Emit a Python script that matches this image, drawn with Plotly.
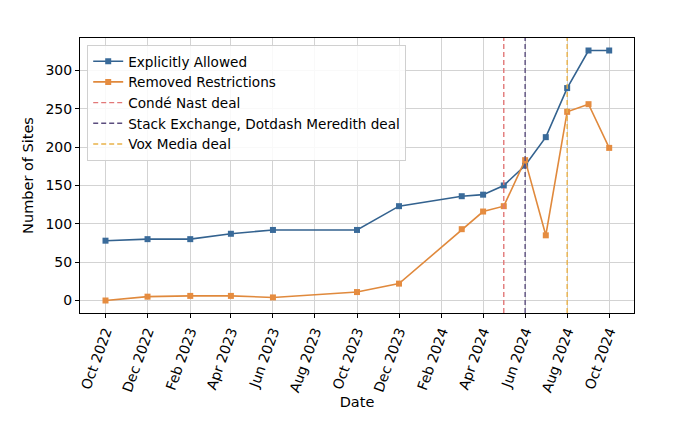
import plotly.graph_objects as go

dates = ["2022-10-01", "2022-12-01", "2023-02-01", "2023-04-01", "2023-06-01",
         "2023-10-01", "2023-12-01", "2024-03-01", "2024-04-01", "2024-05-01",
         "2024-06-01", "2024-07-01", "2024-08-01", "2024-09-01", "2024-10-01"]
explicitly_allowed = [78, 80, 80, 87, 92, 92, 123, 136, 138, 150, 176, 213, 277, 326, 326]
removed_restrictions = [0, 5, 6, 6, 4, 11, 22, 93, 116, 123, 183, 85, 246, 256, 199]

deal_names = ["Condé Nast deal", "Stack Exchange, Dotdash Meredith deal", "Vox Media deal"]
deal_dates = ["2024-05-01", "2024-06-01", "2024-08-01"]
deal_colors = ["#e27878", "#5b4d7e", "#e9b24a"]

font = "DejaVu Sans"

fig = go.Figure()
fig.add_trace(go.Scatter(x=dates, y=explicitly_allowed, name="Explicitly Allowed",
                         mode="lines+markers",
                         line=dict(color="#33628f", width=1.6),
                         marker=dict(symbol="square", size=6, color="#3a6b9a")))
fig.add_trace(go.Scatter(x=dates, y=removed_restrictions, name="Removed Restrictions",
                         mode="lines+markers",
                         line=dict(color="#e0893c", width=1.6),
                         marker=dict(symbol="square", size=6, color="#e58c40")))

for name, d, c in zip(deal_names, deal_dates, deal_colors):
    fig.add_shape(type="line", x0=d, x1=d, xref="x", y0=0, y1=1, yref="paper",
                  line=dict(color=c, width=1.4, dash="5px,3px"),
                  showlegend=True, name=name)

# the page has an 8px body margin, so the figure is a bit smaller than the window
fig.update_layout(
    width=692, height=431,
    margin=dict(l=72, r=66, t=30, b=126),
    paper_bgcolor="white", plot_bgcolor="white",
    font=dict(family=font, size=14, color="black"),
    showlegend=True,
    legend=dict(x=0.013, y=0.975, xanchor="left", yanchor="top",
                bgcolor="rgba(255,255,255,0.85)", bordercolor="#d0d0d0", borderwidth=1,
                font=dict(family=font, size=13.6), tracegroupgap=0, itemwidth=30),
)
fig.update_xaxes(
    type="date", range=["2022-08-25", "2024-11-06"],
    tick0="2022-10-01", dtick="M2", tickformat="%b %Y", tickangle=-70,
    showgrid=True, gridcolor="#d3d3d3", gridwidth=1,
    showline=True, linecolor="black", linewidth=1, mirror=True,
    ticks="outside", ticklen=4, tickcolor="black",
    title=dict(text="Date", font=dict(size=14.5), standoff=0),
)
fig.update_yaxes(
    range=[-16.3, 342.3], tickvals=[0, 50, 100, 150, 200, 250, 300],
    showgrid=True, gridcolor="#d3d3d3", gridwidth=1, zeroline=False,
    showline=True, linecolor="black", linewidth=1, mirror=True,
    ticks="outside", ticklen=4, tickcolor="black",
    title=dict(text="Number of Sites", font=dict(size=14.5), standoff=8),
)

fig.write_html("out.html")
